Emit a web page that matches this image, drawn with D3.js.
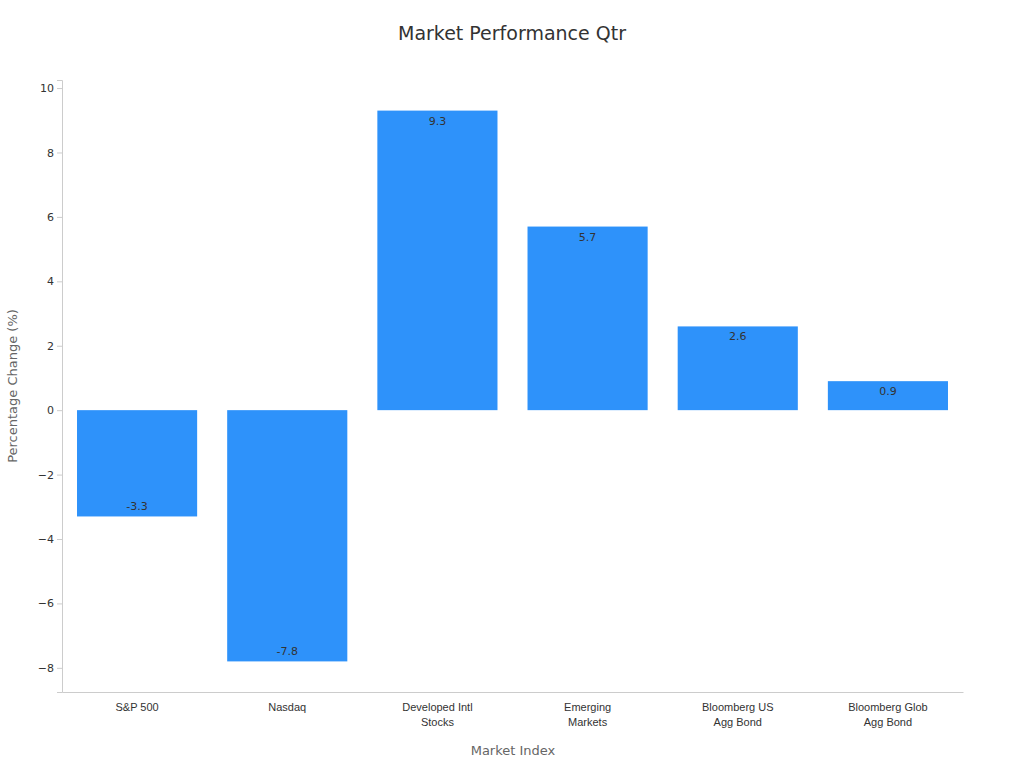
<!DOCTYPE html>
<html><head><meta charset="utf-8">
<script src="https://cdn.jsdelivr.net/npm/d3@7"></script>
<style>body{margin:0;background:#fff;font-family:"DejaVu Sans",sans-serif}</style>
</head><body><svg id="c" width="1024" height="768"></svg>
<script>
const categories = ["S&P 500","Nasdaq","Developed Intl\nStocks","Emerging\nMarkets","Bloomberg US\nAgg Bond","Bloomberg Glob\nAgg Bond"];
const values = [-3.3,-7.8,9.3,5.7,2.6,0.9];
const yTicks = [-8,-6,-4,-2,0,2,4,6,8,10];

const svg = d3.select("#c");
const L=62,R=963,T=80,B=692;
const x = d3.scaleBand().domain(categories).range([L,R]).paddingInner(0.2).paddingOuter(0.1);
const y = d3.scaleLinear().domain([-8.75,10.25]).range([B,T]);

svg.append("text").attr("x",512).attr("y",40).attr("text-anchor","middle")
  .attr("font-size",19).attr("fill","#333").text("Market Performance Qtr");

const ya = svg.append("g").attr("transform",`translate(${L},0)`)
  .call(d3.axisLeft(y).tickValues(yTicks).tickSize(5).tickFormat(d=>d<0?"−"+Math.abs(d):d));
ya.selectAll("text").attr("font-size",11).attr("fill","#333").attr("font-family","DejaVu Sans");
ya.selectAll("line,path").attr("stroke","#ccc");

const xa = svg.append("g").attr("transform",`translate(0,${B})`)
  .call(d3.axisBottom(x).tickSize(0).tickFormat(""));
xa.selectAll("path").attr("stroke","#ccc");
xa.selectAll(".tick").each(function(d){
  const t=d3.select(this).append("text").attr("fill","#333").attr("font-size",11)
    .attr("text-anchor","middle").attr("y",19);
  d.split("\n").forEach((s,i)=>t.append("tspan").attr("x",0).attr("dy",i?15:0).text(s));
});

svg.selectAll("rect.bar").data(values).join("rect")
  .attr("x",(d,i)=>x(categories[i])).attr("width",x.bandwidth())
  .attr("y",d=>y(Math.max(0,d))).attr("height",d=>Math.abs(y(d)-y(0)))
  .attr("fill","#2e92fa");

svg.selectAll("text.lbl").data(values).join("text")
  .attr("x",(d,i)=>x(categories[i])+x.bandwidth()/2)
  .attr("y",d=>d>=0?y(d)+14:y(d)-6)
  .attr("text-anchor","middle").attr("font-size",11).attr("fill","#333")
  .text(d=>d);

svg.append("text").attr("transform","translate(17,386) rotate(-90)").attr("text-anchor","middle")
  .attr("font-size",13).attr("fill","#666").text("Percentage Change (%)");
svg.append("text").attr("x",513).attr("y",755).attr("text-anchor","middle")
  .attr("font-size",13).attr("fill","#666").text("Market Index");
</script></body></html>
